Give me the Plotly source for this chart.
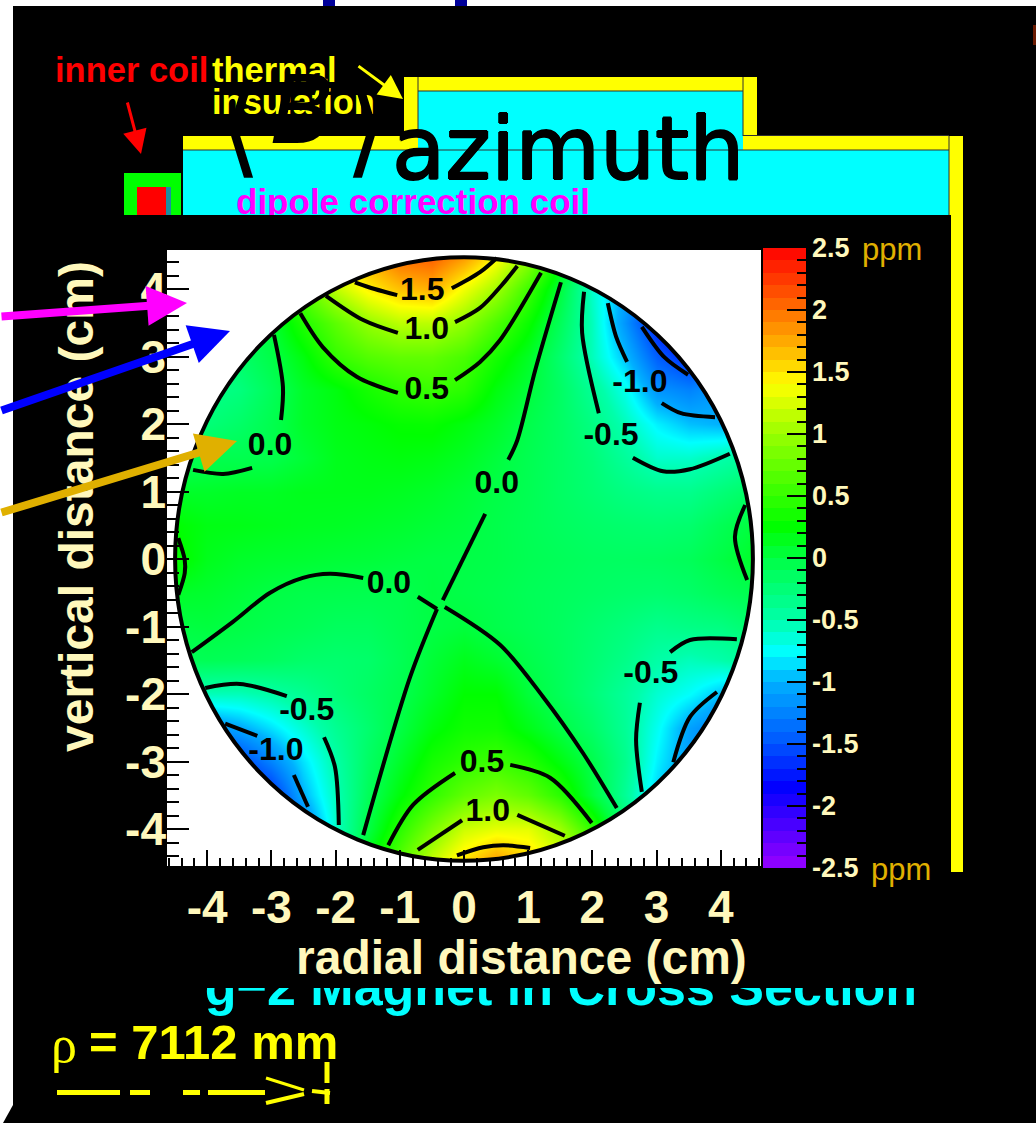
import numpy as np
import plotly.graph_objects as go

W, H = 1036, 1123
SANS = "Liberation Sans"
CREAM = "#FFF8BC"
GOLD = "#E0B000"
YELLOW = "#FFFF00"
CYAN = "#00FFFF"

# ---- field map (ppm), rows from y=+4.5 down to y=-4.5
x_grid = [-4.5, -4, -3.5, -3, -2.5, -2, -1.5, -1, -.5, 0, .5, 1, 1.5, 2, 2.5, 3, 3.5, 4, 4.5]
y_grid = [4.5, 4, 3.5, 3, 2.5, 2, 1.5, 1, .5, 0, -.5, -1, -1.5, -2, -2.5, -3, -3.5, -4, -4.5]
z_rows = [
    [.1, .2, .4, .7, 1.0, 1.4, 1.75, 2.05, 2.1, 1.85, 1.45, 1.0, .3, -.3, -.8, -1.2, -1.6, -1.7, -1.6],
    [-.1, 0, .1, .3, .7, 1.15, 1.45, 1.65, 1.72, 1.35, 1.03, .55, .03, -.6, -1.05, -1.45, -1.8, -1.9, -1.7],
    [-.3, -.2, -.1, .05, .4, .7, .97, 1.13, 1.13, .95, .62, .3, -.1, -.55, -1.15, -1.75, -2.0, -1.8, -1.6],
    [-.4, -.3, -.18, -.02, .2, .5, .65, .72, .72, .6, .35, .12, -.2, -.55, -.95, -1.45, -1.7, -1.5, -1.3],
    [-.45, -.35, -.28, -.1, .1, .2, .35, .47, .52, .45, .2, .04, -.15, -.4, -.7, -1.15, -1.25, -1.1, -1],
    [-.35, -.25, -.17, -.05, .1, .18, .22, .27, .28, .2, .1, -.03, -.15, -.3, -.55, -.8, -.95, -1, -.9],
    [-.1, -.05, -.05, -.03, .05, .15, .18, .2, .18, .12, .03, -.06, -.15, -.25, -.42, -.6, -.6, -.5, -.4],
    [.1, .1, .12, .12, .15, .15, .15, .13, .1, .05, -.01, -.07, -.15, -.22, -.3, -.35, -.35, -.25, -.15],
    [.25, .18, .17, .15, .13, .12, .1, .08, .05, .02, -.03, -.08, -.13, -.17, -.2, -.22, -.2, -.08, .03],
    [.3, .15, .1, .08, .07, .05, .04, .02, 0, -.01, -.03, -.07, -.1, -.13, -.14, -.13, -.1, 0, .1],
    [.1, .08, .04, 0, -.03, -.04, -.05, -.05, .01, -.02, -.05, -.09, -.12, -.15, -.18, -.2, -.17, -.1, -.05],
    [0, .02, -.01, -.05, -.08, -.12, -.12, -.06, 0, .03, -.03, -.08, -.13, -.2, -.27, -.35, -.32, -.3, -.2],
    [-.1, -.08, -.1, -.13, -.18, -.2, -.18, -.08, .05, .15, .08, -.03, -.12, -.22, -.33, -.48, -.55, -.5, -.4],
    [-.5, -.55, -.55, -.48, -.38, -.25, -.15, -.05, .1, .25, .25, .04, -.1, -.25, -.42, -.62, -.75, -.95, -1],
    [-1.1, -1.2, -1.05, -.85, -.62, -.38, -.2, 0, .2, .32, .33, .17, 0, -.17, -.4, -.72, -1.08, -1.3, -1.3],
    [-1.6, -1.7, -1.6, -1.25, -.85, -.48, -.15, .1, .35, .47, .55, .42, .2, -.03, -.35, -.8, -1.1, -1.3, -1.3],
    [-1.8, -1.9, -1.9, -1.7, -1.0, -.55, -.1, .22, .48, .72, .85, .72, .45, .03, -.4, -.9, -1.2, -1.4, -1.4],
    [-1.9, -2, -2, -1.9, -1.3, -.6, 0, .45, .85, 1.2, 1.3, 1.3, 1.02, .48, -.2, -.9, -1.3, -1.4, -1.4],
    [-1.9, -2, -2, -1.9, -1.4, -.7, .2, .7, 1.2, 1.55, 1.85, 1.6, 1.3, .9, .1, -.8, -1.3, -1.4, -1.4],
]

# ---- colour scale
scale_values = [-2.5, -1.84, -1.5, -1.0, -0.76, -0.5, -0.25, 0.0, 0.25, 0.5, 1.0, 1.4, 1.6, 2.0, 2.5]
scale_colors = ["#9900FF", "#0000FF", "#0055FF", "#00B0FF", "#00FFFF", "#00FFAA", "#00FF77", "#00FF44",
                "#00FF00", "#33FF00", "#99FF00", "#FFFF00", "#FFCC00", "#FF7000", "#FF0000"]
colorscale = [[(v + 2.5) / 5, c] for v, c in zip(scale_values, scale_colors)]
bar_levels = [round(-2.45 + 0.1 * i, 2) for i in range(50)]

# ---- contour lines (cm)
contour_lines = {
    "p15_top_l": ([-1.70, -1.39, -1.04], [4.10, 4.00, 3.91]),
    "p15_top_r": ([-0.19, 0.25, 0.51], [4.01, 4.25, 4.46]),
    "p10_top_l": ([-2.15, -1.57, -1.03], [3.90, 3.54, 3.35]),
    "p10_top_r": ([-0.14, 0.25, 0.59, 0.83], [3.51, 3.72, 4.06, 4.34]),
    "p05_top_l": ([-2.55, -2.20, -1.67, -1.03], [3.64, 3.14, 2.70, 2.46]),
    "p05_top_r": ([-0.14, 0.25, 0.56, 1.20], [2.65, 2.92, 3.24, 4.24]),
    "z_main_up": ([1.51, 1.11, 0.83, 0.69], [4.10, 2.80, 1.76, 1.47]),
    "z_main_mid": ([0.33, -0.33], [0.67, -0.61]),
    "z_main_low": ([-0.30, 0.56, 1.23, 1.85, 2.38], [-0.71, -1.27, -2.04, -2.87, -3.69]),
    "z_left": ([-4.24, -3.60, -3.02, -2.51, -2.09, -1.57], [-1.38, -0.93, -0.50, -0.28, -0.22, -0.28]),
    "z_left_b": ([-0.72, -0.42], [-0.56, -0.74]),
    "z_down": ([-0.42, -0.84, -1.57], [-0.74, -1.75, -4.09]),
    "m05_ur_a": ([1.87, 1.84, 2.10], [3.96, 3.35, 2.16]),
    "m05_ur_b": ([2.63, 3.10, 3.52, 4.14], [1.50, 1.30, 1.33, 1.56]),
    "m10_ur_a": ([2.24, 2.37, 2.54], [3.79, 3.29, 2.92]),
    "m10_ur_b": ([3.08, 3.38, 3.91], [2.31, 2.16, 2.10]),
    "m15_ur": ([2.77, 3.12, 3.49], [3.44, 2.99, 2.73]),
    "m05_lr_a": ([3.21, 3.52, 4.25], [-1.38, -1.20, -1.19]),
    "m05_lr_b": ([2.74, 2.68, 2.77], [-2.13, -2.68, -3.45]),
    "m10_lr": ([3.94, 3.52, 3.26], [-1.97, -2.34, -3.01]),
    "p05_bot_l": ([-1.18, -0.79, -0.14], [-4.24, -3.64, -3.17]),
    "p05_bot_r": ([0.72, 1.34, 1.99], [-3.05, -3.24, -3.91]),
    "p10_bot_l": ([-0.72, -0.03], [-4.31, -3.87]),
    "p10_bot_r": ([0.83, 1.57], [-3.79, -4.10]),
    "p15_bot": ([-0.11, 0.30, 0.61, 1.03], [-4.39, -4.27, -4.24, -4.28]),
    "z_right": ([4.38, 4.22, 4.41], [0.80, 0.33, -0.31]),
    "z_lobe_l": ([-4.45, -4.35, -4.35, -4.45], [0.31, -0.01, -0.21, -0.53]),
    "z_ul_a": ([-2.96, -2.82, -2.85], [3.32, 2.55, 2.06]),
    "z_ul_b": ([-4.22, -3.75, -3.30], [1.32, 1.26, 1.35]),
    "m05_ll_a": ([-4.03, -3.49, -2.76], [-1.91, -1.85, -2.03]),
    "m05_ll_b": ([-2.18, -2.01, -1.95], [-2.64, -3.08, -3.94]),
    "m10_ll_a": ([-3.72, -3.22], [-2.44, -2.62]),
    "m10_ll_b": ([-2.65, -2.43], [-3.20, -3.67]),
}
label_text = ["1.5", "1.0", "0.5", "0.0", "0.0", "-1.0", "-0.5", "0.0", "-0.5", "-1.0", "-0.5", "0.5", "1.0"]
label_x = [-.65, -.58, -.58, -3.02, .51, 2.74, 2.29, -1.17, -2.45, -2.93, 2.91, .28, .37]
label_y = [3.96, 3.38, 2.49, 1.66, 1.10, 2.59, 1.81, -.39, -2.27, -2.86, -1.72, -3.04, -3.76]

axis_ticks = [-4, -3, -2, -1, 0, 1, 2, 3, 4]
axis_tick_text = ["-4", "-3", "-2", "-1", "0", "1", "2", "3", "4"]
bar_ticks = [2.5, 2, 1.5, 1, .5, 0, -.5, -1, -1.5, -2, -2.5]
bar_tick_text = ["2.5", "2", "1.5", "1", "0.5", "0", "-0.5", "-1", "-1.5", "-2", "-2.5"]

X_RANGE = [-4.626, 4.626]
Y_RANGE = [-4.548, 4.578]
RX, RY = 4.5, 4.47


def fx(p):
    return p / W


def fy(p):
    return 1 - p / H


fig = go.Figure()

# field map
fig.add_trace(go.Heatmap(x=x_grid, y=y_grid[::-1], z=z_rows[::-1], zmin=-2.5, zmax=2.5, zsmooth="best",
                         colorscale=colorscale, showscale=False, hoverinfo="skip"))
# white outside the round aperture (ring: outer corners one way, aperture the other way)
t = np.linspace(0, -2 * np.pi, 361)
mask_x = [X_RANGE[1], X_RANGE[1], X_RANGE[0], X_RANGE[0], X_RANGE[1], X_RANGE[1]] + list(RX * np.cos(t)) + [X_RANGE[1]]
mask_y = [0, Y_RANGE[1], Y_RANGE[1], Y_RANGE[0], Y_RANGE[0], 0] + list(RY * np.sin(t)) + [0]
fig.add_trace(go.Scatter(x=mask_x, y=mask_y, mode="lines", fill="toself", fillcolor="white",
                         line=dict(width=0, color="white"), hoverinfo="skip", showlegend=False))
for name, (cx, cy) in contour_lines.items():
    fig.add_trace(go.Scatter(x=cx, y=cy, mode="lines", name=name, showlegend=False, hoverinfo="skip",
                             line=dict(color="black", width=4, shape="spline", smoothing=0.9)))
fig.add_trace(go.Scatter(x=label_x, y=label_y, text=label_text, mode="text", textposition="middle center",
                         textfont=dict(family=SANS, size=32, color="black", weight="bold"),
                         showlegend=False, hoverinfo="skip"))

# colour bar
fig.add_trace(go.Heatmap(x=[0.5], y=bar_levels, z=[[v] for v in bar_levels], zmin=-2.5, zmax=2.5,
                         colorscale=colorscale, showscale=False, hoverinfo="skip", xaxis="x2", yaxis="y2"))

# page-wide text that the black panels clip
fig.add_trace(go.Scatter(x=[413, 561], y=[205, 992], mode="text", xaxis="x3", yaxis="y3",
                         text=["dipole correction coil", "g\u22122 Magnet in Cross Section"],
                         textposition="middle center", showlegend=False, hoverinfo="skip",
                         textfont=dict(family=SANS, size=[35, 52], color=["#FF00FF", CYAN], weight="bold")))


def rect(x0, y0, x1, y1, color, layer="below"):
    return dict(type="rect", xref="paper", yref="paper", x0=fx(x0), x1=fx(x1), y0=fy(y0), y1=fy(y1),
                fillcolor=color, line=dict(width=0), layer=layer)


def seg(x0, y0, x1, y1, color, width, layer="below"):
    return dict(type="line", xref="paper", yref="paper", x0=fx(x0), x1=fx(x1), y0=fy(y0), y1=fy(y1),
                line=dict(color=color, width=width), layer=layer)


DARK = "#303030"
shapes = [
    rect(13, 6, W, H, "black"),
    rect(323, 0, 335, 6, "#000099"),
    rect(455, 0, 467, 6, "#000099"),
    rect(1033, 25, W, 45, "#6A1A00"),
    dict(type="path", xref="paper", yref="paper", layer="below", fillcolor="black", line=dict(width=0),
         path=f"M {fx(13)} {fy(1105)} L {fx(3)} {fy(H)} L {fx(13)} {fy(H)} Z"),
    # yoke / cryostat outline
    rect(183, 136, 949, 150, YELLOW),
    rect(949, 136, 963, 872, YELLOW),
    rect(404, 77, 757, 91, YELLOW),
    rect(404, 77, 418, 136, YELLOW),
    rect(743, 77, 757, 136, YELLOW),
    rect(183, 150, 949, 215, CYAN),
    rect(418, 91, 743, 150, CYAN),
    seg(183, 150, 949, 150, DARK, 1),
    seg(418, 91, 743, 91, DARK, 1),
    seg(418, 77, 418, 136, DARK, 1),
    seg(743, 77, 743, 136, DARK, 1),
    seg(743, 135.5, 949, 135.5, DARK, 1),
    seg(949, 136, 949, 215, DARK, 1),
    # inner coil
    rect(124, 173, 181, 215, "#00FF00"),
    rect(137, 187, 166, 215, "#FF0000"),
    rect(166, 187, 171, 215, "#1A8FA0"),
    # black panels
    rect(14, 215, 951, H, "black"),
    # dimension line at the bottom
    seg(57, 1092.5, 120, 1092.5, YELLOW, 5),
    seg(130, 1092.5, 150, 1092.5, YELLOW, 5),
    seg(183, 1092.5, 200, 1092.5, YELLOW, 5),
    seg(208, 1092.5, 265, 1092.5, YELLOW, 5),
    seg(266, 1078, 304, 1090, YELLOW, 3),
    seg(266, 1103, 304, 1094, YELLOW, 4),
    seg(312, 1091, 330, 1093, YELLOW, 4),
    seg(327, 1062, 327, 1083, YELLOW, 5),
    seg(327, 1089, 327, 1104, YELLOW, 5),
    # aperture outline
    dict(type="circle", xref="x", yref="y", x0=-RX, x1=RX, y0=-RY, y1=RY, layer="above",
         line=dict(color="black", width=4)),
    # panels that clip the page-wide text
    rect(14, 215, 951, 234, "black", "above"),
    rect(100, 930, 951, 988, "black", "above"),
]


def label(x, y, text, size, color, bold=True, family=SANS, xanchor="center", yanchor="middle", angle=0, shadow=None):
    font = dict(family=family, size=size, color=color, weight="bold" if bold else "normal")
    if shadow:
        font["shadow"] = shadow
    return dict(xref="paper", yref="paper", x=fx(x), y=fy(y), text=text, showarrow=False, xanchor=xanchor,
                yanchor=yanchor, textangle=angle, font=font)


def arrow(x0, y0, x1, y1, color, width, headsize=1.0):
    return dict(xref="paper", yref="paper", x=fx(x1), y=fy(y1), ax=x0 - x1, ay=y0 - y1, axref="pixel", ayref="pixel",
                text="", showarrow=True, arrowhead=2, arrowsize=headsize, arrowwidth=width, arrowcolor=color)


HEAVY = "1px 0 0 black, -1px 0 0 black, 0 1px 0 black, 0 -1px 0 black"
annotations = [
    label(131, 70, "inner coil", 34.5, "#FF0000"),
    label(210, 70, "thermal", 34.5, YELLOW, xanchor="left"),
    label(210, 102, "insulation", 34.5, YELLOW, xanchor="left"),
    label(746, 149, "azimuth", 87, "black", bold=False, family="DejaVu Sans", xanchor="right", shadow=HEAVY),
    label(240, 125, "\u27e8", 110, "black", bold=False, family="DejaVu Sans"),
    label(302, 110, "<i>B</i>", 95, "black", bold=False, family="DejaVu Sans"),
    label(365, 125, "\u27e9", 110, "black", bold=False, family="DejaVu Sans"),
    label(521, 957, "radial distance (cm)", 48, CREAM),
    label(77, 507, "vertical distance (cm)", 48, CREAM, angle=-90),
    label(892, 250, "ppm", 31, GOLD, bold=False),
    label(901, 869, "ppm", 31, GOLD, bold=False),
    label(64, 1044, "\u03c1", 52, YELLOW, bold=False, family="Liberation Serif"),
    label(87, 1042, "= 7112 mm", 49, YELLOW, xanchor="left"),
    arrow(-10, 316.7, 187, 303, "#FF00FF", 8),
    arrow(-10, 411, 230, 331, "#0000FF", 8),
    arrow(-10, 513, 237, 441, GOLD, 8),
    arrow(127, 101, 141, 154, "#FF0000", 3, 1.6),
    arrow(357, 65, 403, 99, YELLOW, 3, 1.6),
]

tick_font = dict(family=SANS, size=46, color=CREAM, weight="bold")
fig.update_layout(
    width=W, height=H, margin=dict(l=0, r=0, t=0, b=0, pad=0, autoexpand=False), autosize=False,
    paper_bgcolor="white", plot_bgcolor="rgba(0,0,0,0)", showlegend=False,
    shapes=shapes, annotations=annotations,
    xaxis=dict(domain=[fx(167), fx(761)], range=X_RANGE, anchor="y", showgrid=False, zeroline=False,
               showline=False, tickmode="array", tickvals=axis_ticks, ticktext=axis_tick_text, tickfont=tick_font,
               ticks="inside", ticklen=16, tickwidth=1.5, tickcolor="black", ticklabelstandoff=10,
               minor=dict(ticks="inside", ticklen=8, tickwidth=1.5, tickcolor="black", dtick=0.2, tick0=0, showgrid=False)),
    yaxis=dict(domain=[fy(866), fy(250)], range=Y_RANGE, anchor="x", showgrid=False, zeroline=False,
               showline=False, tickmode="array", tickvals=axis_ticks, ticktext=axis_tick_text, tickfont=tick_font,
               ticks="inside", ticklen=22, tickwidth=1.5, tickcolor="black",
               minor=dict(ticks="inside", ticklen=12, tickwidth=1.5, tickcolor="black", dtick=0.2, tick0=0, showgrid=False)),
    xaxis2=dict(domain=[fx(763), fx(806)], range=[0, 1], anchor="y2", visible=False),
    yaxis2=dict(domain=[fy(868), fy(248)], range=[-2.5, 2.5], anchor="x2", side="right", showgrid=False,
                zeroline=False, showline=False, tickmode="array", tickvals=bar_ticks, ticktext=bar_tick_text,
                tickfont=dict(family=SANS, size=27, color=CREAM, weight="bold"),
                ticks="inside", ticklen=19, tickwidth=1.5, tickcolor="black", ticklabelstandoff=5,
                minor=dict(ticks="inside", ticklen=9, tickwidth=1.5, tickcolor="black", dtick=0.1, tick0=0, showgrid=False)),
    xaxis3=dict(domain=[0, 1], range=[0, W], anchor="y3", visible=False),
    yaxis3=dict(domain=[0, 1], range=[H, 0], anchor="x3", visible=False),
)

fig.write_html("out.html", config={"displayModeBar": False},
               post_script="document.body.style.margin='0';document.body.style.overflow='hidden';")
